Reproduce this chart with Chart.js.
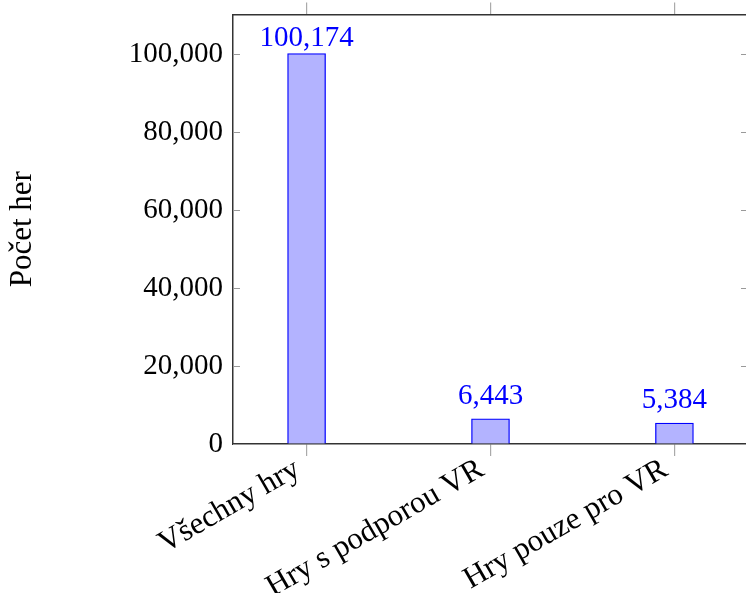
<!DOCTYPE html>
<html>
<head>
<meta charset="utf-8">
<script src="https://cdn.jsdelivr.net/npm/chart.js@4"></script>
<style>
  html, body { margin: 0; padding: 0; background: #fff; overflow: hidden; }
  #wrap { width: 750px; height: 593px; }
</style>
</head>
<body>
<div id="wrap"><canvas id="myChart"></canvas></div>
<script>
var categories = ['Všechny hry', 'Hry s podporou VR', 'Hry pouze pro VR'];
var counts = [100174, 6443, 5384];
var yTicks = [0, 20000, 40000, 60000, 80000, 100000];

var serif = '"Liberation Serif", "Times New Roman", serif';
var fmt = function (v) { return v.toLocaleString('en-US'); };
var catTicks = function (s) { s.ticks = categories.map(function (c, i) { return { value: i }; }); };

// value labels above the bars
var valueLabels = {
    id: 'valueLabels',
    afterDatasetsDraw: function (chart) {
        var ctx = chart.ctx;
        var meta = chart.getDatasetMeta(0);
        ctx.save();
        ctx.fillStyle = '#0000ff';
        ctx.font = '29px ' + serif;
        ctx.textAlign = 'center';
        ctx.textBaseline = 'alphabetic';
        meta.data.forEach(function (bar, i) {
            var y = Math.max(bar.y - 15, chart.chartArea.top + 31);
            ctx.fillText(fmt(counts[i]), bar.x, y);
        });
        ctx.restore();
    }
};

// pgfplots style inward ticks on y axis
var innerTicks = {
    id: 'innerTicks',
    afterDraw: function (chart) {
        var ctx = chart.ctx;
        var s = chart.scales.y;
        var a = chart.chartArea;
        ctx.save();
        ctx.strokeStyle = '#999';
        ctx.lineWidth = 1.2;
        yTicks.forEach(function (t) {
            var y = Math.round(s.getPixelForValue(t)) + 0.5;
            ctx.beginPath();
            ctx.moveTo(a.left, y); ctx.lineTo(a.left + 7, y);
            ctx.moveTo(a.right, y); ctx.lineTo(a.right - 7, y);
            ctx.stroke();
        });
        ctx.restore();
    }
};

new Chart(document.getElementById('myChart'), {
    type: 'bar',
    data: {
        datasets: [{
            data: counts.map(function (v, i) { return { x: i, y: v }; }),
            backgroundColor: '#b3b3ff',
            borderColor: '#0000ff',
            borderWidth: 1.3,
            barThickness: 38
        }]
    },
    options: {
        responsive: true,
        maintainAspectRatio: false,
        animation: false,
        layout: { padding: { left: 0, right: 2, top: 0, bottom: 0 } },
        plugins: { legend: { display: false }, tooltip: { enabled: false } },
        scales: {
            x: {
                type: 'linear',
                offset: false,
                min: -0.4,
                max: 2.4,
                afterBuildTicks: catTicks,
                afterFit: function (s) { s.height = 149; s.paddingLeft = 0; s.paddingRight = 0; },
                border: { color: '#333', width: 1.5 },
                grid: { offset: false, drawOnChartArea: false, drawTicks: true, tickLength: 12, color: '#aaa', lineWidth: 1.2 },
                ticks: {
                    color: '#000',
                    font: { family: serif, size: 31 },
                    maxRotation: 30,
                    minRotation: 30,
                    padding: -5,
                    labelOffset: -9,
                    autoSkip: false,
                    callback: function (v) { return categories[v]; }
                }
            },
            x2: {
                type: 'linear',
                position: 'top',
                offset: false,
                min: -0.4,
                max: 2.4,
                afterBuildTicks: catTicks,
                afterFit: function (s) { s.height = 14.5; s.paddingLeft = 0; s.paddingRight = 0; },
                border: { color: '#333', width: 1.5 },
                grid: { offset: false, drawOnChartArea: false, drawTicks: true, tickLength: 12, color: '#aaa', lineWidth: 1.2 },
                ticks: { display: false }
            },
            y: {
                min: 0,
                max: 110200,
                afterBuildTicks: function (s) { s.ticks = yTicks.map(function (v) { return { value: v }; }); },
                afterFit: function (s) { s.width = 233; s.paddingTop = 0; s.paddingBottom = 0; },
                border: { color: '#333', width: 1.5 },
                grid: { display: true, drawOnChartArea: false, drawTicks: false },
                ticks: {
                    color: '#000',
                    font: { family: serif, size: 29 },
                    padding: 10,
                    callback: function (v) { return fmt(v); }
                },
                title: {
                    display: true,
                    text: 'Počet her',
                    color: '#000',
                    font: { family: serif, size: 31 },
                    padding: { top: 4, bottom: 0 }
                }
            }
        }
    },
    plugins: [valueLabels, innerTicks]
});
</script>
</body>
</html>
